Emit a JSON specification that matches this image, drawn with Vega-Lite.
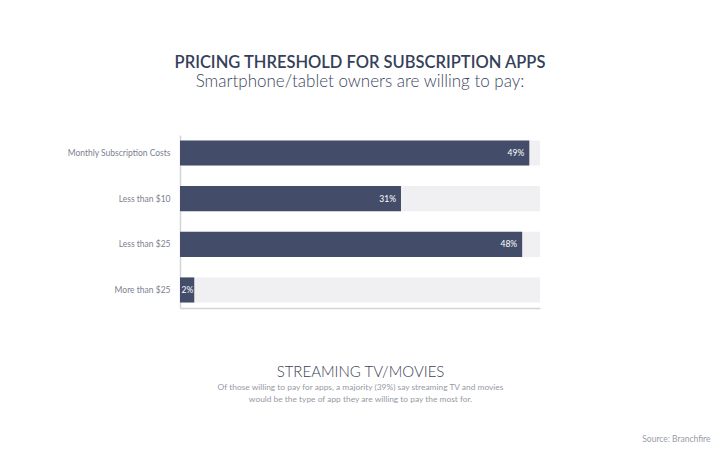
{
  "$schema": "https://vega.github.io/schema/vega-lite/v6.json",
  "width": 360,
  "height": 173,
  "autosize": {"type": "none"},
  "padding": {"left": 180, "top": 135, "right": 180, "bottom": 144},
  "background": "white",
  "config": {
    "font": "Lato",
    "view": {"stroke": null}
  },
  "title": {
    "text": "PRICING THRESHOLD FOR SUBSCRIPTION APPS",
    "subtitle": "Smartphone/tablet owners are willing to pay:",
    "anchor": "middle",
    "font": "Lato",
    "fontSize": 16.5,
    "fontWeight": 600,
    "color": "#363f5a",
    "subtitleFont": "Lato",
    "subtitleFontSize": 17,
    "subtitleFontWeight": 300,
    "subtitleColor": "#3d4660",
    "subtitlePadding": 3,
    "offset": 45
  },
  "data": {
    "values": [
      {"option": "Monthly Subscription Costs", "pct": 49, "label": "49%", "full": 50.5},
      {"option": "Less than $10", "pct": 31, "label": "31%", "full": 50.5},
      {"option": "Less than $25", "pct": 48, "label": "48%", "full": 50.5},
      {"option": "More than $25", "pct": 2, "label": "2%", "full": 50.5}
    ]
  },
  "encoding": {
    "y": {
      "field": "option",
      "type": "nominal",
      "sort": null,
      "scale": {"paddingInner": 0.45, "paddingOuter": 0.12},
      "axis": {
        "title": null,
        "ticks": false,
        "labelFont": "Lato",
        "labelFontSize": 8.5,
        "labelColor": "#7d8190",
        "labelPadding": 10,
        "domainColor": "#d3d4da",
        "domainWidth": 1.5
      }
    }
  },
  "layer": [
    {
      "mark": {"type": "bar", "color": "#f0f0f3"},
      "encoding": {
        "x": {
          "field": "full",
          "type": "quantitative",
          "scale": {"domain": [0, 50.5], "nice": false},
          "axis": {
            "orient": "bottom",
            "labels": false,
            "ticks": false,
            "grid": false,
            "domainColor": "#d3d4da",
            "domainWidth": 1.5,
            "title": "STREAMING TV/MOVIES",
            "titleFont": "Lato",
            "titleFontSize": 15,
            "titleFontWeight": 300,
            "titleColor": "#3a4258",
            "titleAlign": "center",
            "titleBaseline": "alphabetic",
            "titleX": 180,
            "titleY": 68
          }
        }
      }
    },
    {
      "mark": {"type": "bar", "color": "#434d69"},
      "encoding": {
        "x": {
          "field": "pct",
          "type": "quantitative",
          "axis": {
            "orient": "bottom",
            "labels": false,
            "ticks": false,
            "grid": false,
            "domain": false,
            "title": [
              "Of those willing to pay for apps, a majority (39%) say streaming TV and movies",
              "would be the type of app they are willing to pay the most for."
            ],
            "titleFont": "Lato",
            "titleFontSize": 8.4,
            "titleFontWeight": "normal",
            "titleColor": "#979aa5",
            "titleLineHeight": 12,
            "titleAlign": "center",
            "titleBaseline": "alphabetic",
            "titleX": 180,
            "titleY": 81
          }
        }
      }
    },
    {
      "transform": [{"filter": "datum.pct >= 5"}],
      "mark": {"type": "text", "align": "right", "dx": -5, "color": "white", "fontSize": 8.5, "font": "Lato"},
      "encoding": {
        "x": {
          "field": "pct",
          "type": "quantitative",
          "axis": {
            "orient": "bottom",
            "labels": false,
            "ticks": false,
            "grid": false,
            "domain": false,
            "title": "Source: Branchfire",
            "titleFont": "Lato",
            "titleFontSize": 8.5,
            "titleFontWeight": "normal",
            "titleColor": "#9a9ca6",
            "titleAlign": "right",
            "titleBaseline": "alphabetic",
            "titleX": 530,
            "titleY": 133
          }
        },
        "text": {"field": "label", "type": "nominal"}
      }
    },
    {
      "transform": [{"filter": "datum.pct < 5"}],
      "mark": {"type": "text", "align": "right", "dx": -1, "color": "white", "fontSize": 8.5, "font": "Lato"},
      "encoding": {
        "x": {"field": "pct", "type": "quantitative", "axis": null},
        "text": {"field": "label", "type": "nominal"}
      }
    }
  ],
  "resolve": {"scale": {"x": "shared"}, "axis": {"x": "independent"}}
}
